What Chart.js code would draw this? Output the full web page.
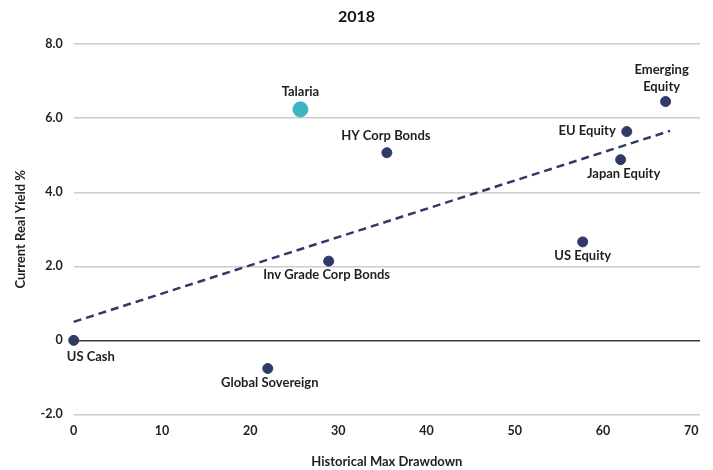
<!DOCTYPE html>
<html>
<head>
<meta charset="utf-8">
<script src="https://cdn.jsdelivr.net/npm/chart.js@4.4.1/dist/chart.umd.min.js"></script>
<style>
html,body{margin:0;padding:0;background:#fff;}
#wrap{width:713px;height:470px;}
</style>
</head>
<body>
<div id="wrap"><canvas id="c" width="713" height="470"></canvas></div>
<script>
const assetNames = ["US Cash","Global Sovereign","Inv Grade Corp Bonds","HY Corp Bonds","US Equity","Japan Equity","EU Equity","Emerging Equity"];
const maxDrawdown = [0, 22.0, 28.9, 35.5, 57.7, 62.0, 62.7, 67.1];
const realYield = [0, -0.76, 2.14, 5.07, 2.66, 4.88, 5.64, 6.45];
const highlightName = ["Talaria"];
const highlightDrawdown = [25.7];
const highlightYield = [6.24];
const trendX = [0, 67.6];
const trendY = [0.5, 5.66];
const xTicks = [0,10,20,30,40,50,60,70];
const yTicks = [-2,0,2,4,6,8];

const NAVY = '#2f3b66';
const TEAL = '#3bb4c1';
const FONT = 'Lato, "Noto Sans", sans-serif';

// label placement style: [dx, dy, align]
const labelStyle = {
  "US Cash": [-7, 16, 'left'],
  "Global Sovereign": [2, 14, 'center'],
  "Inv Grade Corp Bonds": [-2, 14, 'center'],
  "HY Corp Bonds": [-1, -17, 'center'],
  "US Equity": [0, 14, 'center'],
  "Japan Equity": [3, 14, 'center'],
  "EU Equity": [-11, -1, 'right'],
  "Emerging Equity": [-4, -24, 'center'],
  "Talaria": [0, -18, 'center']
};

const mainPts = maxDrawdown.map((x,i)=>({x:x, y:realYield[i], name:assetNames[i]}));
const hiPts = highlightDrawdown.map((x,i)=>({x:x, y:highlightYield[i], name:highlightName[i]}));
const trendPts = trendX.map((x,i)=>({x:x, y:trendY[i]}));

const labelPlugin = {
  id:'pointLabels',
  afterDatasetsDraw(chart){
    const ctx = chart.ctx;
    ctx.save();
    ctx.font = 'bold 13px ' + FONT;
    ctx.fillStyle = '#1f1f1f';
    ctx.textBaseline = 'middle';
    [0,1].forEach(di=>{
      const meta = chart.getDatasetMeta(di);
      meta.data.forEach((el,i)=>{
        const name = chart.data.datasets[di].data[i].name;
        const st = labelStyle[name] || [0,-14,'center'];
        ctx.textAlign = st[2];
        if (name === "Emerging Equity") {
          ctx.fillText("Emerging", el.x + st[0], el.y + st[1] - 8);
          ctx.fillText("Equity", el.x + st[0], el.y + st[1] + 9);
        } else {
          ctx.fillText(name, el.x + st[0], el.y + st[1]);
        }
      });
    });
    ctx.restore();
  }
};

new Chart(document.getElementById('c'), {
  type:'scatter',
  data:{
    datasets:[
      {data:mainPts, backgroundColor:NAVY, borderColor:NAVY, pointRadius:5, pointHoverRadius:5, clip:false, order:1},
      {data:hiPts, backgroundColor:TEAL, borderColor:TEAL, pointRadius:7.5, pointHoverRadius:7.5, clip:false, order:1},
      {type:'line', data:trendPts, borderColor:NAVY, borderWidth:2.5, borderDash:[8,5], pointRadius:0, fill:false, clip:false, order:2}
    ]
  },
  plugins:[labelPlugin],
  options:{
    responsive:false,
    animation:false,
    events:[],
    layout:{padding:{left:13, right:13, top:4, bottom:0}},
    plugins:{
      legend:{display:false},
      tooltip:{enabled:false},
      title:{display:true, text:'2018', color:'#111', font:{family:FONT, size:16, weight:'bold'}, padding:{top:3, bottom:18}}
    },
    scales:{
      x:{
        type:'linear', min:0, max:71,
        afterBuildTicks(axis){ axis.ticks = xTicks.map(v=>({value:v})); },
        grid:{display:false, drawTicks:false},
        border:{display:false},
        ticks:{color:'#1f1f1f', font:{family:FONT, size:12.5, weight:'bold'}, padding:9, maxRotation:0, callback:v=>String(v)},
        title:{display:true, text:'Historical Max Drawdown', color:'#1f1f1f', font:{family:FONT, size:13, weight:'bold'}, padding:{top:7, bottom:0}}
      },
      y:{
        type:'linear', min:-2, max:8,
        afterBuildTicks(axis){ axis.ticks = yTicks.map(v=>({value:v})); },
        grid:{drawTicks:false, color:ctx=> ctx.tick && ctx.tick.value===0 ? '#3a3a3a' : '#cccccc', lineWidth:1.5},
        border:{display:false},
        ticks:{color:'#1f1f1f', font:{family:FONT, size:12.5, weight:'bold'}, padding:11, callback:v=> v===0 ? '0' : v.toFixed(1)},
        title:{display:true, text:'Current Real Yield %', color:'#1f1f1f', font:{family:FONT, size:13, weight:'bold'}, padding:{top:0, bottom:1}}
      }
    }
  }
});
</script>
</body>
</html>
